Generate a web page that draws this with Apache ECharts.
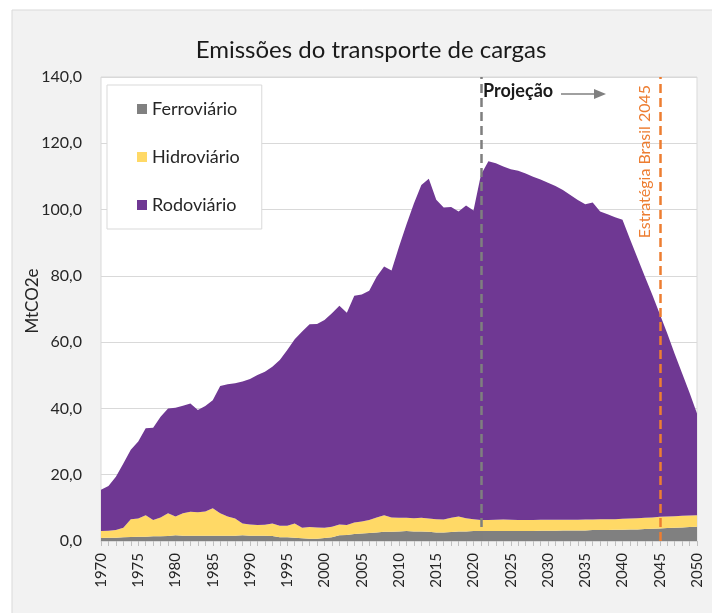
<!DOCTYPE html>
<html>
<head>
<meta charset="utf-8">
<script src="https://cdn.jsdelivr.net/npm/echarts@6/dist/echarts.min.js"></script>
<style>html,body{margin:0;padding:0;background:#fff}#c{width:712px;height:613px}</style>
</head>
<body>
<div id="c"></div>
<script>
const years = [];
for (let y = 1970; y <= 2050; y++) years.push(String(y));

const ferroviario = [0.9,1.0,1.0,1.1,1.2,1.3,1.3,1.4,1.4,1.5,1.7,1.6,1.6,1.6,1.6,1.6,1.6,1.6,1.6,1.7,1.6,1.6,1.6,1.5,1.1,1.1,1.0,0.8,0.7,0.7,0.9,1.1,1.7,1.8,2.1,2.3,2.4,2.6,2.8,2.8,2.9,3.0,2.9,2.9,2.8,2.6,2.6,2.7,2.9,2.9,3.0,3.0,3.0,3.0,3.0,3.0,3.0,3.0,3.0,3.1,3.1,3.1,3.2,3.2,3.2,3.2,3.3,3.3,3.3,3.4,3.4,3.5,3.5,3.6,3.7,3.8,3.9,4.0,4.1,4.2,4.3];

const hidroviario = [2.1,2.1,2.3,2.9,5.4,5.5,6.5,4.9,5.7,6.9,5.7,6.8,7.2,7.1,7.3,8.3,6.8,5.8,5.2,3.6,3.4,3.2,3.3,3.8,3.5,3.5,4.3,3.2,3.5,3.4,3.1,3.2,3.3,3.0,3.5,3.6,3.9,4.5,5.0,4.3,4.1,4.0,4.0,4.1,4.0,4.0,3.9,4.3,4.5,4.0,3.6,3.3,3.3,3.4,3.5,3.4,3.3,3.3,3.3,3.3,3.3,3.3,3.2,3.2,3.2,3.3,3.2,3.3,3.3,3.2,3.3,3.3,3.4,3.4,3.4,3.5,3.5,3.5,3.5,3.5,3.5];

const rodoviario = [12.5,13.5,16.1,19.4,20.9,23.2,26.2,27.9,30.4,31.6,32.8,32.4,32.7,30.8,31.8,32.6,38.4,39.9,40.8,42.8,43.9,45.3,46.2,47.3,50.0,53.0,55.6,59.2,61.2,61.4,62.7,64.4,66.0,64.1,68.4,68.5,69.2,72.6,75.0,74.5,81.8,88.5,94.9,100.4,102.5,96.4,94.1,93.8,92.0,94.3,93.1,104.2,108.3,107.6,106.5,105.8,105.4,104.6,103.6,102.7,101.7,100.7,99.5,98.0,96.5,95.1,95.6,92.8,92.0,91.1,90.2,84.3,78.6,72.8,67.2,61.2,55.3,49.0,43.0,37.0,30.7];

const seriesNames = ['Ferroviário', 'Hidroviário', 'Rodoviário'];
const yTicks = [0, 20, 40, 60, 80, 100, 120, 140];
const projectionYear = '2021';
const strategyYear = '2045';

const FONT = 'Lato, "Open Sans", sans-serif';
const chart = echarts.init(document.getElementById('c'), null, {renderer: 'canvas'});

function area(name, data, color, extra) {
  return Object.assign({
    name: name,
    type: 'line',
    stack: 'total',
    data: data,
    symbol: 'none',
    showSymbol: false,
    lineStyle: {width: 0, color: color},
    itemStyle: {color: color},
    areaStyle: {color: color, opacity: 1},
    emphasis: {disabled: true},
    silent: true
  }, extra || {});
}

chart.setOption({
  animation: false,
  backgroundColor: '#ffffff',
  textStyle: {fontFamily: FONT},
  graphic: [
    {type: 'rect', z: -10, shape: {x: 12, y: 10, width: 720, height: 620},
     style: {fill: '#f2f2f2', stroke: '#d9d9d9', lineWidth: 1}},
    {type: 'text', left: 483, top: 82, z: 100,
     style: {text: 'Projeção', font: 'bold 18px ' + FONT, fill: '#1a1a1a'}},
    {type: 'line', z: 100, shape: {x1: 561, y1: 94, x2: 596, y2: 94},
     style: {stroke: '#808080', lineWidth: 1.5}},
    {type: 'polygon', z: 100, shape: {points: [[594, 89], [606, 94], [594, 99]]},
     style: {fill: '#808080'}}
  ],
  title: {
    text: 'Emissões do transporte de cargas',
    left: 366, top: 33, textAlign: 'center',
    textStyle: {fontFamily: FONT, fontSize: 24, fontWeight: 'normal', color: '#1a1a1a'}
  },
  legend: {
    orient: 'vertical',
    left: 107, top: 85,
    data: seriesNames,
    icon: 'rect',
    itemWidth: 10, itemHeight: 10,
    itemGap: 28,
    backgroundColor: '#ffffff',
    borderColor: '#d9d9d9', borderWidth: 1,
    padding: [14, 22, 14, 30],
    textStyle: {fontFamily: FONT, fontSize: 18, color: '#262626', lineHeight: 20},
    selectedMode: false
  },
  grid: {
    left: 101, right: 15, top: 77, bottom: 72,
    show: true, backgroundColor: '#ffffff', borderColor: '#d9d9d9', borderWidth: 1
  },
  xAxis: {
    type: 'category',
    data: years,
    boundaryGap: false,
    axisLine: {show: true, lineStyle: {color: '#d9d9d9'}},
    axisTick: {show: true, interval: 0, length: 5, lineStyle: {color: '#bfbfbf'}},
    axisLabel: {interval: 4, rotate: 90, margin: 12, fontFamily: FONT, fontSize: 15, color: '#262626'},
    splitLine: {show: false}
  },
  yAxis: {
    type: 'value',
    min: yTicks[0], max: yTicks[yTicks.length - 1], interval: 20,
    name: 'MtCO2e',
    nameLocation: 'middle',
    nameGap: 60,
    nameMoveOverlap: false,
    nameTextStyle: {fontFamily: FONT, fontSize: 17, color: '#262626', padding: [0, 0, 0, 16]},
    axisLine: {show: false},
    axisTick: {show: false},
    axisLabel: {margin: 19, fontFamily: FONT, fontSize: 16, color: '#262626',
      formatter: v => v.toFixed(1).replace('.', ',')},
    splitLine: {lineStyle: {color: '#d9d9d9', width: 1}}
  },
  series: [
    area(seriesNames[0], ferroviario, '#808080'),
    area(seriesNames[1], hidroviario, '#ffd966'),
    area(seriesNames[2], rodoviario, '#6f3893', {
      markLine: {
        silent: true,
        symbol: ['none', 'none'],
        animation: false,
        data: [
          {xAxis: projectionYear, lineStyle: {color: '#7f7f7f', type: [9, 5], width: 2.5}, label: {show: false}},
          {xAxis: strategyYear, lineStyle: {color: '#ed7d31', type: [9, 5], width: 2.5},
           label: {show: true, formatter: 'Estratégia Brasil 2045', position: 'insideEndTop',
                   distance: [8, 7], color: '#ed7d31', fontFamily: FONT, fontSize: 16}}
        ]
      }
    })
  ]
});
</script>
</body>
</html>
